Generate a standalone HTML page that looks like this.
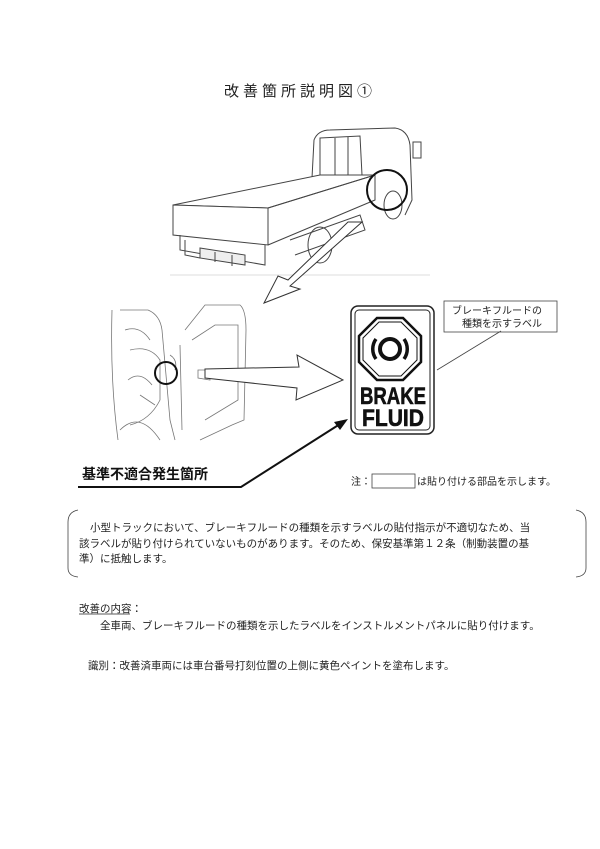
<!DOCTYPE html>
<html><head><meta charset="utf-8"><style>
body{margin:0;background:#fff;}
svg{display:block}
text{font-family:"Liberation Sans","Noto Sans CJK JP",sans-serif;}
</style></head><body>
<svg width="600" height="849" viewBox="0 0 600 849" xmlns="http://www.w3.org/2000/svg">
<rect width="600" height="849" fill="#fff"/>
<text x="300" y="96" font-size="15" text-anchor="middle" letter-spacing="4" fill="#222">改善箇所説明図①</text>

<!-- truck -->
<g fill="none" stroke="#444" stroke-width="1">
<line x1="170" y1="275" x2="430" y2="275" stroke="#ddd"/>
<path d="M312 178 L314 140 Q318 130 330 130 L395 128 Q408 130 410 145 L412 200 L405 215"/>
<path d="M320 138 L360 136 L362 175 L320 178 Z"/>
<line x1="335" y1="138" x2="335" y2="177"/><line x1="348" y1="137" x2="348" y2="176"/>
<rect x="413" y="142" width="8" height="16"/>
<path d="M173 205 L320 175 L375 175 L268 208 Z" fill="#fff"/>
<path d="M173 205 L173 235 L268 245 L268 208 Z" fill="#fff"/>
<path d="M268 208 L375 175 L375 200 L268 245"/>
<path d="M180 235 L180 250 L265 265 L265 245"/>
<path d="M290 240 L360 215 L365 230 L295 255"/>
<ellipse cx="320" cy="245" rx="12" ry="18"/>
<ellipse cx="393" cy="205" rx="9" ry="14"/>
<path d="M200 248 L245 255 L245 265 L200 258 Z" fill="#eee"/>
<path d="M185 240 L185 255 L200 258 M215 252 L215 262 M232 255 L232 266"/>
</g>
<circle cx="387" cy="190" r="20" fill="none" stroke="#111" stroke-width="2"/>
<!-- arrow 1 -->
<polygon points="362,222 348,222 288,280 278,276 264,303 300,289 290,286" fill="#fff" stroke="#333" stroke-width="1"/>

<!-- cab interior -->
<g fill="none" stroke="#777" stroke-width="0.8">
<path d="M112 310 Q110 380 118 440"/>
<path d="M120 310 L148 310 Q160 315 162 330 L170 420 L175 440"/>
<path d="M185 330 L205 305 L240 305 Q246 310 246 330 L244 420 L232 425 L200 440"/>
<path d="M192 340 L215 325 L238 325 L238 400 L205 420"/>
<path d="M130 350 Q150 345 160 360 L160 400 Q150 420 130 425"/>
<path d="M120 430 Q140 410 160 440"/>
<path d="M198 370 L210 370 L210 380 L198 378Z"/>
<path d="M125 330 Q140 325 150 340 M128 380 Q140 370 152 385 M140 395 L155 405 M180 345 L182 430 M170 355 Q178 360 175 370"/>
</g>
<circle cx="166" cy="373" r="11" fill="none" stroke="#111" stroke-width="2"/>
<polygon points="205,369 299,367 297,355 343,380 296,400 297,388 205,378" fill="#fff" stroke="#333" stroke-width="1"/>

<!-- label -->
<rect x="351" y="306" width="83" height="128" rx="7" fill="#fff" stroke="#222" stroke-width="1.5"/>
<rect x="355" y="310" width="75" height="120" rx="4" fill="none" stroke="#222" stroke-width="1"/>
<polygon points="377,318 403,318 421,336 421,362 403,380 377,380 359,362 359,336" fill="none" stroke="#111" stroke-width="2.5"/>
<polygon points="379,322 401,322 417,338 417,360 401,376 379,376 363,360 363,338" fill="none" stroke="#111" stroke-width="1"/>
<circle cx="390" cy="349" r="10" fill="none" stroke="#111" stroke-width="4"/>
<path d="M376 339 A17 17 0 0 0 376 359" fill="none" stroke="#111" stroke-width="3.5"/>
<path d="M404 339 A17 17 0 0 1 404 359" fill="none" stroke="#111" stroke-width="3.5"/>
<text x="360" y="404" font-size="24" font-weight="bold" textLength="66" lengthAdjust="spacingAndGlyphs" fill="#111" stroke="#111" stroke-width="0.6">BRAKE</text>
<text x="362" y="426" font-size="24" font-weight="bold" textLength="62" lengthAdjust="spacingAndGlyphs" fill="#111" stroke="#111" stroke-width="0.6">FLUID</text>

<!-- callout -->
<rect x="444" y="301" width="113" height="31" fill="#fff" stroke="#444" stroke-width="0.8"/>
<text x="452" y="314" font-size="10" fill="#222">ブレーキフルードの</text>
<text x="462" y="327" font-size="10" fill="#222">種類を示すラベル</text>
<line x1="437" y1="370" x2="501" y2="331" stroke="#444" stroke-width="0.8"/>

<!-- non-conformity -->
<text x="82" y="479" font-size="14" font-weight="bold" fill="#111">基準不適合発生箇所</text>
<polyline points="78,487 241,487 340,424" fill="none" stroke="#111" stroke-width="2"/>
<polygon points="348,419 334,422 340,430" fill="#111"/>

<text x="351" y="485" font-size="10" fill="#222">注：</text>
<rect x="372" y="474" width="43" height="14" fill="#fff" stroke="#444" stroke-width="0.8"/>
<text x="417" y="485" font-size="10" fill="#222">は貼り付ける部品を示します。</text>

<!-- bracket -->
<g fill="none" stroke="#444" stroke-width="0.8">
<path d="M78 510 Q68 512 68 522 L68 568 Q68 576 78 577"/>
<path d="M576 510 Q586 512 586 522 L586 568 Q586 576 576 577"/>
</g>
<g font-size="10.5" fill="#222">
<text x="90" y="531">小型トラックにおいて、ブレーキフルードの種類を示すラベルの貼付指示が不適切なため、当</text>
<text x="79" y="547">該ラベルが貼り付けられていないものがあります。そのため、保安基準第１２条（制動装置の基</text>
<text x="79" y="562">準）に抵触します。</text>
<text x="79" y="612">改善の内容：</text>
<text x="100" y="629">全車両、ブレーキフルードの種類を示したラベルをインストルメントパネルに貼り付けます。</text>
<text x="88" y="669">識別：改善済車両には車台番号打刻位置の上側に黄色ペイントを塗布します。</text>
</g>
<line x1="79" y1="614" x2="130" y2="614" stroke="#222" stroke-width="0.8"/>
</svg>
</body></html>
